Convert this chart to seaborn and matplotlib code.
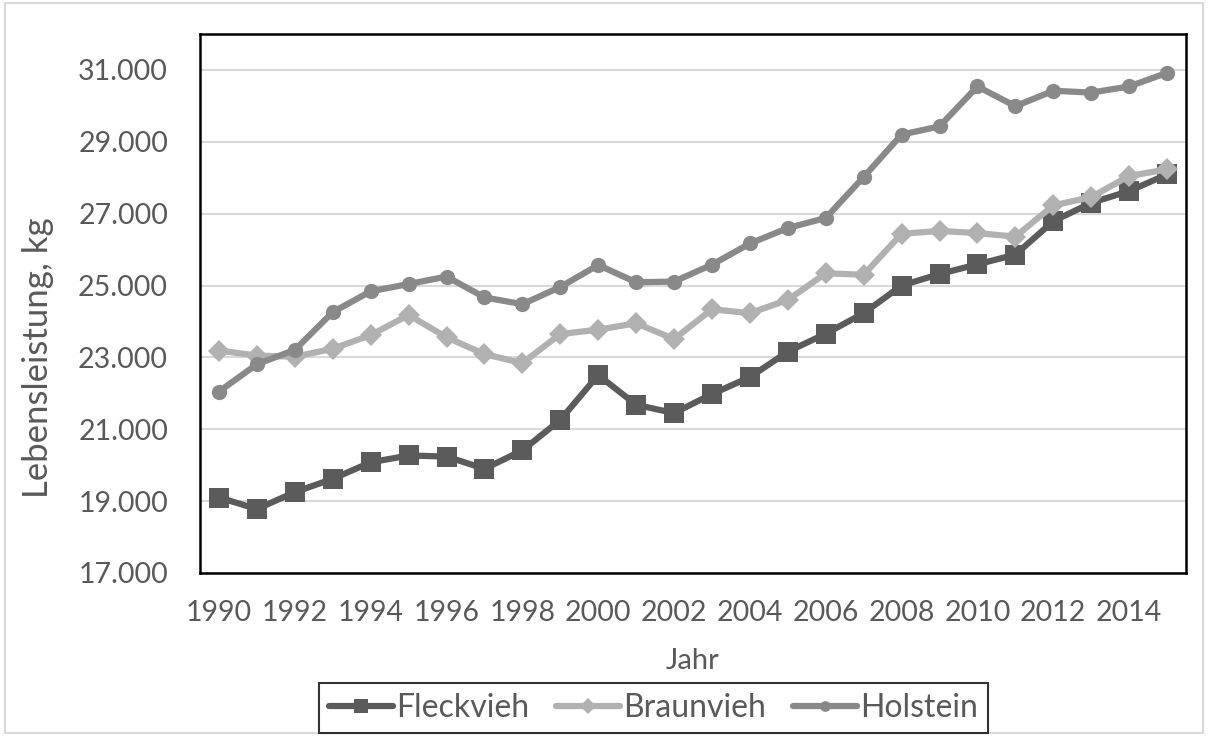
import pandas as pd
import matplotlib.pyplot as plt
import matplotlib.ticker as mticker
import matplotlib.patches as mpatches
import seaborn as sns

# Data
years = list(range(1990, 2016))
fleckvieh = [19100, 18780, 19250, 19620, 20080, 20270, 20240, 19900, 20410, 21260,
             22510, 21680, 21450, 21980, 22450, 23160, 23660, 24230, 25000, 25320,
             25590, 25860, 26790, 27300, 27630, 28090]
braunvieh = [23190, 23050, 23020, 23240, 23620, 24180, 23560, 23090, 22840, 23650,
             23770, 23950, 23510, 24340, 24230, 24600, 25340, 25300, 26440, 26520,
             26460, 26360, 27230, 27460, 28050, 28230]
holstein = [22050, 22810, 23210, 24260, 24840, 25040, 25250, 24670, 24480, 24960,
            25570, 25090, 25110, 25580, 26170, 26600, 26880, 28020, 29200, 29430,
            30540, 29990, 30420, 30370, 30540, 30920]
breeds = ['Fleckvieh', 'Braunvieh', 'Holstein']
colors = ['#5b5b5b', '#b1b1b1', '#898989']
markers = ['s', 'D', 'o']
marker_sizes = [14, 11, 11]

df = pd.DataFrame({'Jahr': years * 3,
                   'Wert': fleckvieh + braunvieh + holstein,
                   'Rasse': [b for b in breeds for _ in years]})

sns.set_style("white")
plt.rcParams['font.family'] = ['Lato', 'DejaVu Sans']
text_col = '#595959'

fig = plt.figure(figsize=(12.08, 7.36), dpi=100)
ax = fig.add_axes([0.1656, 0.2215, 0.8162, 0.7323])

for breed, col, mk, ms in zip(breeds, colors, markers, marker_sizes):
    sub = df[df['Rasse'] == breed]
    sns.lineplot(data=sub, x='Jahr', y='Wert', ax=ax, color=col, linewidth=4.5,
                 marker=mk, markersize=ms, markeredgewidth=0, label=breed, legend=False)

ax.set_xlim(1989.5, 2015.5)
ax.set_ylim(17000, 32000)
ax.set_yticks(range(17000, 32000, 2000))
ax.yaxis.set_major_formatter(mticker.FuncFormatter(lambda v, p: f"{v:,.0f}".replace(",", ".")))
ax.grid(axis='y', color='#d9d9d9', linewidth=1.5)
ax.set_axisbelow(True)

xt = years + [2015.5]
ax.set_xticks(xt)
ax.set_xticklabels([str(y) if y % 2 == 0 and y < 2015 else '' for y in years] + [''])
ax.tick_params(axis='x', direction='inout', length=11, width=1.5, color='black',
               labelsize=20.5, labelcolor=text_col, pad=14)
ax.tick_params(axis='y', length=0, labelsize=20.5, labelcolor=text_col, pad=23)

for s in ax.spines.values():
    s.set_color('black')
    s.set_linewidth(1.8)

ax.set_xlabel('Jahr', fontsize=21, color=text_col, labelpad=16)
ax.set_ylabel('Lebensleistung, kg', fontsize=25, color=text_col)
ax.yaxis.set_label_coords(-0.148, 0.40)

handles, labels = ax.get_legend_handles_labels()
leg = fig.legend(handles, labels, loc='upper center', bbox_to_anchor=(0.541, 0.072), ncol=3,
                 frameon=True, fontsize=23, handlelength=2.0, handletextpad=0.1,
                 columnspacing=0.85, borderpad=0.32, borderaxespad=0, fancybox=False,
                 markerscale=0.7)
leg.get_frame().set_edgecolor('black')
leg.get_frame().set_linewidth(1.5)
for t in leg.get_texts():
    t.set_color(text_col)

# outer chart border
fig.patches.append(mpatches.Rectangle((0.004, 0.004), 0.992, 0.992, transform=fig.transFigure,
                                      fill=False, edgecolor='#d9d9d9', linewidth=1.5))

plt.savefig('out.png', dpi=100)
plt.close()
